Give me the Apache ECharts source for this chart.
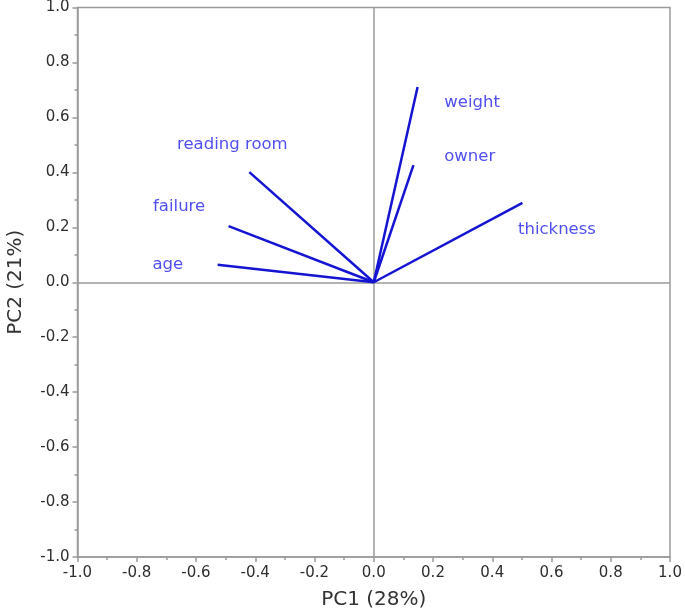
<!DOCTYPE html>
<html>
<head>
<meta charset="utf-8">
<script src="https://cdn.jsdelivr.net/npm/echarts@6/dist/echarts.min.js"></script>
<style>
  html, body { margin: 0; padding: 0; background: #fff; }
  #chart { width: 685px; height: 613px; }
</style>
</head>
<body>
<div id="chart"></div>
<script>
// loadings (PC1, PC2) per variable
var variables = ['weight', 'owner', 'thickness', 'reading room', 'failure', 'age'];
var pc1 = [0.148, 0.134, 0.502, -0.420, -0.490, -0.527];
var pc2 = [0.711, 0.426, 0.289, 0.401, 0.204, 0.064];
// where each name is written (left edge of text, vertical middle)
var labelX = [0.238, 0.238, 0.487, -0.664, -0.745, -0.747];
var labelY = [0.655, 0.456, 0.192, 0.502, 0.274, 0.062];

var axisTicks = [-1.0, -0.8, -0.6, -0.4, -0.2, 0.0, 0.2, 0.4, 0.6, 0.8, 1.0];

var chart = echarts.init(document.getElementById('chart'));

var fontFam = '"DejaVu Sans", Verdana, sans-serif';
var axisGray = '#9a9a9a';

function valueAxis(name, isY) {
  return {
    type: 'value',
    min: axisTicks[0],
    max: axisTicks[axisTicks.length - 1],
    interval: 0.2,
    name: name,
    nameLocation: 'middle',
    nameGap: isY ? 52 : 33,
    nameTextStyle: { fontFamily: fontFam, fontSize: 20, color: '#333' },
    axisLine: { onZero: false, lineStyle: { color: axisGray, width: 1.5 } },
    axisTick: { show: true, length: 5, lineStyle: { color: axisGray, width: 1.5 } },
    minorTick: { show: true, splitNumber: 2, length: 3, lineStyle: { color: axisGray, width: 1.5 } },
    axisLabel: {
      fontFamily: fontFam, fontSize: 15, color: '#2e2e2e', margin: isY ? 8 : 9,
      formatter: function (v) { return v.toFixed(1); }
    },
    splitLine: { show: false }
  };
}

var series = [];
// zero lines
series.push({
  type: 'line',
  data: [],
  silent: true,
  markLine: {
    symbol: 'none',
    silent: true,
    label: { show: false },
    lineStyle: { color: axisGray, width: 1.5, type: 'solid' },
    data: [{ xAxis: 0 }, { yAxis: 0 }]
  }
});
// loading vectors
variables.forEach(function (name, i) {
  series.push({
    type: 'line',
    name: name,
    data: [[0, 0], [pc1[i], pc2[i]]],
    symbol: 'none',
    lineStyle: { color: '#1414d2', width: 2.5 },
    z: 5
  });
});
// variable names
series.push({
  type: 'scatter',
  symbolSize: 0,
  data: variables.map(function (name, i) { return { name: name, value: [labelX[i], labelY[i]] }; }),
  label: {
    show: true,
    position: 'right',
    distance: 0,
    formatter: '{b}',
    fontFamily: fontFam,
    fontSize: 16.5,
    color: '#2222ee'
  },
  z: 6
});

chart.setOption({
  animation: false,
  backgroundColor: '#fff',
  grid: {
    left: 77.5, right: 15, top: 7.5, bottom: 56,
    containLabel: false,
    outerBoundsMode: 'none',
    show: true, borderColor: axisGray, borderWidth: 1.5, backgroundColor: 'transparent'
  },
  xAxis: valueAxis('PC1 (28%)', false),
  yAxis: valueAxis('PC2 (21%)', true),
  series: series
});
</script>
</body>
</html>
